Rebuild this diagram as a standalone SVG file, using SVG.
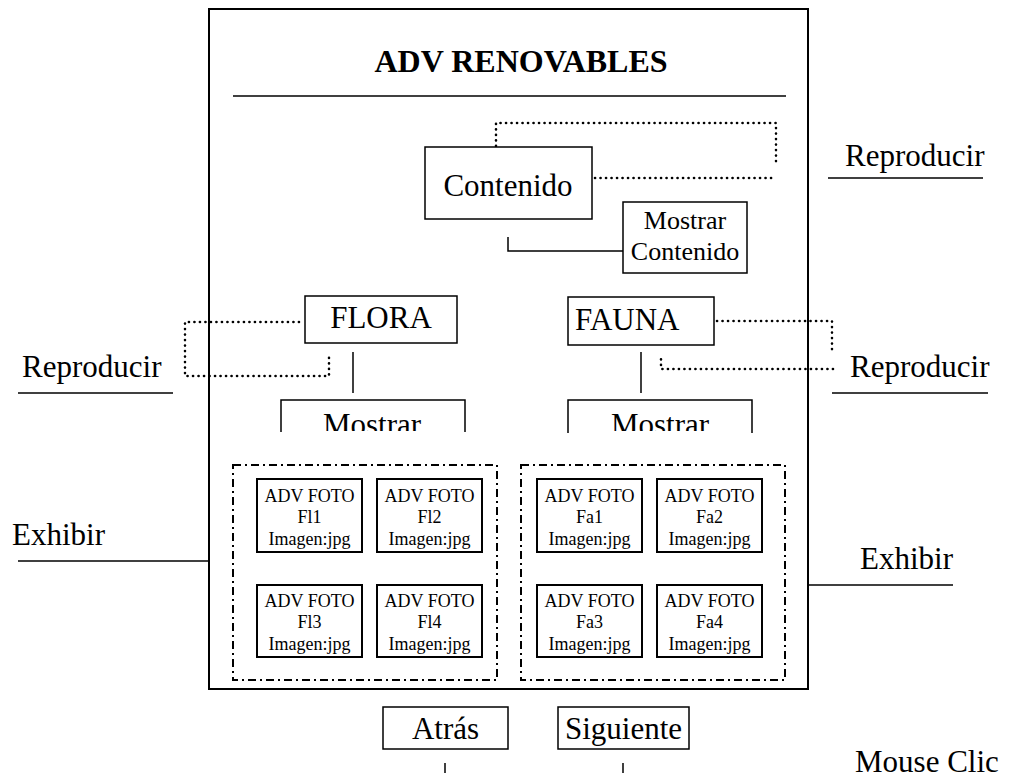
<svg xmlns="http://www.w3.org/2000/svg" width="1020" height="782" viewBox="0 0 1020 782">
  <style>
    text { font-family: "Liberation Serif", "Times New Roman", serif; fill: #000; }
    .lbl { font-size: 31px; }
    .mid { text-anchor: middle; }
    .small { font-size: 26px; text-anchor: middle; }
    .foto { font-size: 18px; text-anchor: middle; }
    .box { fill: #fff; stroke: #000; stroke-width: 1.5; }
    .fbox { fill: #fff; stroke: #000; stroke-width: 2; }
    .frame { fill: none; stroke: #000; stroke-width: 2; }
    .group { fill: none; stroke: #000; stroke-width: 2; stroke-dasharray: 8 4 2 4; }
    .dot { fill: none; stroke: #000; stroke-width: 2.6; stroke-linecap: round; stroke-dasharray: 0.1 5.4; }
    .line { fill: none; stroke: #000; stroke-width: 1.5; }
  </style>
  <defs>
    <clipPath id="clipFloraMostrar"><rect x="281" y="400" width="184" height="31"/></clipPath>
    <clipPath id="clipFaunaMostrar"><rect x="568" y="400" width="184" height="31"/></clipPath>
  </defs>

  <rect width="1020" height="782" fill="#fff"/>

  <!-- page frame and header -->
  <g id="page">
    <rect class="frame" x="209" y="9" width="599" height="680"/>
    <text x="521" y="72" font-size="32" font-weight="bold" text-anchor="middle">ADV RENOVABLES</text>
    <line class="line" x1="233" y1="96" x2="786" y2="96" stroke-width="2"/>
  </g>

  <!-- connectors -->
  <g id="connectors">
    <!-- Contenido loop -->
    <path class="dot" d="M496 146 V123 H776 V165"/>
    <path class="dot" d="M595 178 H776"/>
    <line class="line" x1="828" y1="178" x2="983" y2="178"/>
    <!-- Contenido to Mostrar Contenido -->
    <path class="line" d="M508 237 V251 H623"/>
    <!-- FLORA loop -->
    <path class="dot" d="M299 322 H185 V376 H329 V353"/>
    <line class="line" x1="18" y1="393" x2="173" y2="393"/>
    <line class="line" x1="353" y1="352" x2="353" y2="393"/>
    <!-- FAUNA loop -->
    <path class="dot" d="M717 321 H832 V353"/>
    <path class="dot" d="M833 369 H661 V355"/>
    <line class="line" x1="832" y1="393" x2="988" y2="393"/>
    <line class="line" x1="641" y1="352" x2="641" y2="393"/>
    <!-- Exhibir leaders -->
    <line class="line" x1="18" y1="561" x2="209" y2="561"/>
    <line class="line" x1="808" y1="585" x2="953" y2="585"/>
    <!-- navigation ticks -->
    <line class="line" x1="445" y1="763" x2="445" y2="773"/>
    <line class="line" x1="623" y1="763" x2="623" y2="773"/>
  </g>

  <g id="contenido">
    <rect class="box" x="425" y="147" width="167" height="72"/>
    <text class="lbl mid" x="508" y="196">Contenido</text>
  </g>

  <g id="mostrar-contenido">
    <rect class="box" x="623" y="202" width="124" height="71"/>
    <text class="small" x="685" y="229">Mostrar</text>
    <text class="small" x="685" y="260">Contenido</text>
  </g>

  <g id="reproducir-contenido">
    <text class="lbl" x="845" y="166">Reproducir</text>
  </g>

  <g id="flora">
    <rect class="box" x="305" y="296" width="152" height="47"/>
    <text class="lbl mid" x="381" y="328">FLORA</text>
  </g>

  <g id="reproducir-flora">
    <text class="lbl" x="22" y="377">Reproducir</text>
  </g>

  <g id="mostrar-flora">
    <path class="line" d="M281 432 V400 H465 V432"/>
    <text class="lbl mid" x="372" y="435" clip-path="url(#clipFloraMostrar)">Mostrar</text>
  </g>

  <g id="fauna">
    <rect class="box" x="568" y="297" width="146" height="48"/>
    <text class="lbl" x="575" y="330">FAUNA</text>
  </g>

  <g id="reproducir-fauna">
    <text class="lbl" x="850" y="377">Reproducir</text>
  </g>

  <g id="mostrar-fauna">
    <path class="line" d="M568 433 V400 H752 V433"/>
    <text class="lbl mid" x="660" y="435" clip-path="url(#clipFaunaMostrar)">Mostrar</text>
  </g>

  <!-- flora gallery -->
  <g id="galeria-flora">
    <rect class="group" x="233" y="465" width="264" height="215"/>
  </g>
  <g id="foto-fl1">
    <rect class="fbox" x="257" y="479" width="105" height="73"/>
    <text class="foto" x="309.5" y="502">ADV FOTO</text>
    <text class="foto" x="309.5" y="523">Fl1</text>
    <text class="foto" x="309.5" y="545">Imagen:jpg</text>
  </g>
  <g id="foto-fl2">
    <rect class="fbox" x="377" y="479" width="105" height="73"/>
    <text class="foto" x="429.5" y="502">ADV FOTO</text>
    <text class="foto" x="429.5" y="523">Fl2</text>
    <text class="foto" x="429.5" y="545">Imagen:jpg</text>
  </g>
  <g id="foto-fl3">
    <rect class="fbox" x="257" y="585" width="105" height="72"/>
    <text class="foto" x="309.5" y="607">ADV FOTO</text>
    <text class="foto" x="309.5" y="628">Fl3</text>
    <text class="foto" x="309.5" y="650">Imagen:jpg</text>
  </g>
  <g id="foto-fl4">
    <rect class="fbox" x="377" y="585" width="105" height="72"/>
    <text class="foto" x="429.5" y="607">ADV FOTO</text>
    <text class="foto" x="429.5" y="628">Fl4</text>
    <text class="foto" x="429.5" y="650">Imagen:jpg</text>
  </g>

  <!-- fauna gallery -->
  <g id="galeria-fauna">
    <rect class="group" x="521" y="465" width="264" height="215"/>
  </g>
  <g id="foto-fa1">
    <rect class="fbox" x="537" y="479" width="105" height="73"/>
    <text class="foto" x="589.5" y="502">ADV FOTO</text>
    <text class="foto" x="589.5" y="523">Fa1</text>
    <text class="foto" x="589.5" y="545">Imagen:jpg</text>
  </g>
  <g id="foto-fa2">
    <rect class="fbox" x="657" y="479" width="105" height="73"/>
    <text class="foto" x="709.5" y="502">ADV FOTO</text>
    <text class="foto" x="709.5" y="523">Fa2</text>
    <text class="foto" x="709.5" y="545">Imagen:jpg</text>
  </g>
  <g id="foto-fa3">
    <rect class="fbox" x="537" y="585" width="105" height="72"/>
    <text class="foto" x="589.5" y="607">ADV FOTO</text>
    <text class="foto" x="589.5" y="628">Fa3</text>
    <text class="foto" x="589.5" y="650">Imagen:jpg</text>
  </g>
  <g id="foto-fa4">
    <rect class="fbox" x="657" y="585" width="105" height="72"/>
    <text class="foto" x="709.5" y="607">ADV FOTO</text>
    <text class="foto" x="709.5" y="628">Fa4</text>
    <text class="foto" x="709.5" y="650">Imagen:jpg</text>
  </g>

  <g id="exhibir-flora">
    <text class="lbl" x="12" y="545">Exhibir</text>
  </g>
  <g id="exhibir-fauna">
    <text class="lbl" x="860" y="569">Exhibir</text>
  </g>

  <!-- navigation -->
  <g id="atras">
    <rect class="box" x="383" y="707" width="125" height="42"/>
    <text class="lbl mid" x="445.5" y="739">Atrás</text>
  </g>
  <g id="siguiente">
    <rect class="box" x="558" y="707" width="131" height="42"/>
    <text class="lbl mid" x="623.5" y="739">Siguiente</text>
  </g>
  <g id="mouse-clic">
    <text class="lbl" x="855" y="772">Mouse Clic</text>
  </g>
</svg>
